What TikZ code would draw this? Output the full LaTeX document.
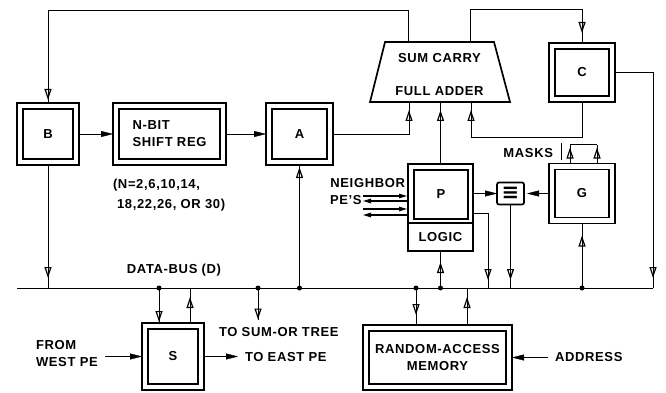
\documentclass[tikz,border=0pt]{standalone}
\usepackage{fontspec}
\setmainfont[LetterSpace=5]{Liberation Sans}
\newfontfamily\dejavu{DejaVu Sans}
\usetikzlibrary{arrows.meta,decorations.markings}
\pgfdeclarelayer{bg}
\pgfsetlayers{bg,main}
\begin{document}
\begin{tikzpicture}[x=1pt,y=-1pt,
  font=\fontsize{13}{17}\selectfont\bfseries,
  line width=1.4pt,
  every node/.style={inner sep=0pt, outer sep=0pt},
  dbl/.style={draw, fill=white, line width=1.6pt, double, double distance=4.4pt},
  sgl/.style={draw, fill=white, line width=1.7pt},
  vtip/.style={postaction={decorate,decoration={markings,
      mark=at position -#1 with {\arrow[line width=1.2pt]{Triangle[open,length=11pt,width=7pt]}}}}},
  tipH/.style={-{Triangle[length=12pt,width=6pt]}},
  tipS/.style={-{Triangle[length=8pt,width=4.5pt]}, line width=1.1pt},
  dot/.style={fill, circle, minimum size=5pt}
]
\useasboundingbox (0,0) rectangle (666,393);

% boxes
\node[dbl, minimum width=56pt, minimum height=56pt] (B) at (48,134) {B};
\node[dbl, minimum width=107pt, minimum height=56pt, align=left] (SR) at (169.5,134) {N-BIT\\SHIFT REG};
\node[dbl, minimum width=61pt, minimum height=56pt] (A) at (299.5,134) {A};
\node[dbl, minimum width=60pt, minimum height=53pt] (C) at (582,72.5) {C};
\node[dbl, minimum width=60pt, minimum height=54pt] (G) at (582,193.5) {G};
\node[dbl, minimum width=56pt, minimum height=61pt] (S) at (173,356.5) {S};
\node[dbl, minimum width=143pt, minimum height=59pt, align=center] (RAM) at (437.5,357.5) {RANDOM-ACCESS\\MEMORY};

\node[sgl, minimum width=65pt, minimum height=59pt] (Pf) at (440.5,193.5) {};
\node[draw, line width=1.5pt, minimum width=54pt, minimum height=49pt] (P) at (441,194.5) {P};
\node[sgl, minimum width=65pt, minimum height=28pt] (L) at (440.5,237) {LOGIC};
\node[sgl, rounded corners=2pt, minimum width=27pt, minimum height=22pt] (E) at (510.5,193.5) {{\dejavu\fontsize{21}{21}\selectfont ≡}};

% full adder
\draw[line width=1.7pt, fill=white] (385,42) -- (494,42) -- (510,102) -- (370,102) -- cycle;
\node (FA1) at (439.5,58) {SUM CARRY};
\node (FA2) at (439.5,91) {FULL ADDER};
\coordinate (sumout) at (408,42);
\coordinate (carryout) at (470,42);
\coordinate (in1) at (409,102);
\coordinate (in2) at (440.5,102);
\coordinate (in3) at (471,102);

% bus ends and free ends
\coordinate (busL) at (17,288);
\coordinate (busR) at (653,288);
\coordinate (sumor) at (258,320);
\coordinate (west) at (105,356.5);
\coordinate (east) at (238,356.5);
\coordinate (addr) at (548,357.5);
\coordinate (pbus) at (488,288);

% texts
\node[anchor=west, align=left] (NN) at (113,195) {(N=2,6,10,14,\\[3pt]\hspace*{4pt}18,22,26, OR 30)};
\node (DB) at (174,270) {DATA-BUS (D)};
\node[anchor=west] (TS) at (219,332) {TO SUM-OR TREE};
\node[anchor=west, align=left] (FW) at (36,353.5) {FROM\\WEST PE};
\node[anchor=west] (TE) at (245,357) {TO EAST PE};
\node[anchor=west] (AD) at (555,357.5) {ADDRESS};
\node[anchor=east] (NB) at (405,183) {NEIGHBOR};
\node[anchor=west] (PS) at (330,200) {PE’S};
\node[anchor=east] (M) at (553,153) {MASKS};

\begin{pgfonlayer}{bg}
\draw (busL) -- (busR);
\draw[vtip=6pt] (sumout) -- ++(0,-32) -| (B.north);
\draw[vtip=13pt] (carryout) -- ++(0,-33) -| (C.north);
\draw[vtip=10pt] (C.east) -| (busR);
\draw[vtip=8pt] (C.south) -- ++(0,38) -| (in3);
\draw[vtip=8pt] (A.east) -| (in1);
\draw[vtip=8pt] (Pf.north) -- (in2);
\draw[tipH, shorten >=3pt] (B) -- (SR);
\draw[tipH, shorten >=3pt] (SR) -- (A);
\draw[vtip=10pt] (B.south) -- (B.south |- busL);
\draw[vtip=5pt] (A.south |- busL) -- (A.south);
\draw[vtip=4pt] ([xshift=-14pt]S.north |- busL) -- ([xshift=-14pt]S.north);
\draw[vtip=9pt] ([xshift=17pt]S.north) -- ([xshift=17pt]S.north |- busL);
\draw[vtip=0.5pt] (sumor |- busL) -- (sumor);
\draw[tipH, shorten >=3pt] (west) -- (S.west);
\draw[tipH] (S.east) -- (east);
\draw[vtip=11pt] (L.south |- busL) -- (L.south);
\draw[vtip=13pt] ([xshift=-21.5pt]RAM.north |- busL) -- ([xshift=-21.5pt]RAM.north);
\draw[vtip=9pt] ([xshift=29.5pt]RAM.north) -- ([xshift=29.5pt]RAM.north |- busL);
\draw[tipH, shorten >=3pt] (addr) -- (RAM.east);
\draw[vtip=15pt] (G.south |- busL) -- (G.south);
\draw[tipH, shorten >=3pt] (G) -- (E);
\draw[tipH] (Pf) -- (E);
\draw[vtip=8pt] (E.south) -- (E.south |- busL);
\draw[vtip=8pt] ([yshift=-19.5pt]Pf.east) -| (pbus);
% neighbor lines
\draw[tipS] ([yshift=-2.5pt]Pf.west) ++(-45,0) -- ++(44,0);
\draw[tipS] ([yshift=-7.5pt]Pf.west) -- ++(-45,0);
\draw[tipS] ([yshift=-15.5pt]Pf.west) ++(-45,0) -- ++(44,0);
\draw[tipS] ([yshift=-21.5pt]Pf.west) -- ++(-45,0);
% masks
\draw[vtip=3pt] ([xshift=-12pt]G.north) -- ++(0,-22);
\draw[vtip=3pt] ([xshift=15pt]G.north) -- ++(0,-22);
\draw ([xshift=-12pt]G.north) ++(0,-22) -- ++(27,0);
\draw (561,143) -- (561,160);
\end{pgfonlayer}

% junction dots
\node[dot] (d1) at ([xshift=-14pt]S.north |- busL) {};
\node[dot] (d2) at (sumor |- busL) {};
\node[dot] (d3) at (A.south |- busL) {};
\node[dot] (d4) at ([xshift=-21.5pt]RAM.north |- busL) {};
\node[dot] (d5) at (L.south |- busL) {};
\node[dot] (d6) at (G.south |- busL) {};
\end{tikzpicture}
\end{document}
